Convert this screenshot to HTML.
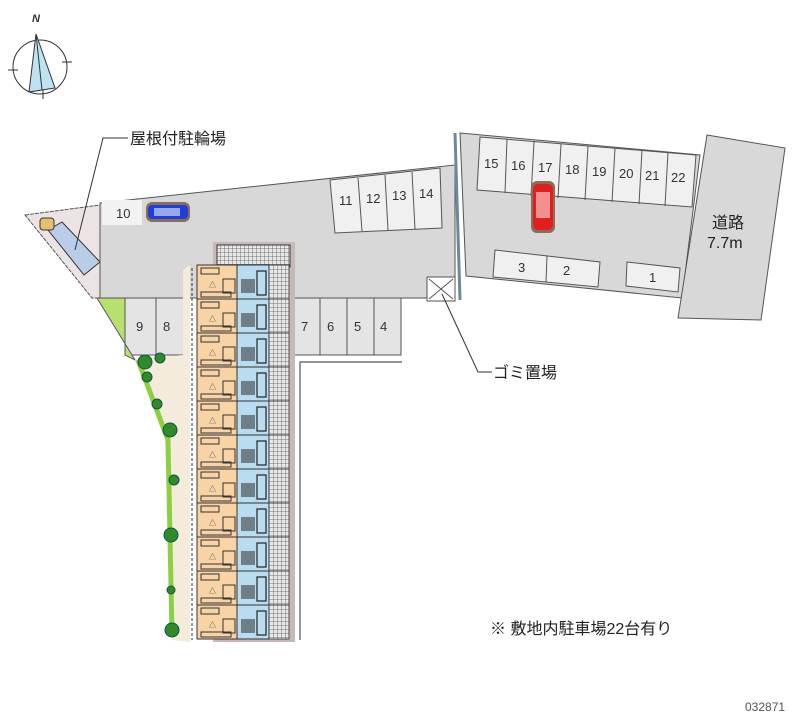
<!DOCTYPE html>
<html><head><meta charset="utf-8"><style>
html,body{margin:0;padding:0;background:#fff;}
svg{display:block;}
text{font-family:"Liberation Sans","Noto Sans CJK JP",sans-serif;}
</style></head><body>
<svg width="800" height="727" viewBox="0 0 800 727" xmlns="http://www.w3.org/2000/svg">
<defs>
<pattern id="hatch" width="4" height="4" patternUnits="userSpaceOnUse">
<rect width="4" height="4" fill="#e8e8e8"/>
<path d="M0 0H4M0 0V4" stroke="#555" stroke-width="0.8"/>
</pattern>
<g id="unit">
<rect x="0" y="0" width="40" height="34" fill="#f7d3a6" stroke="#333" stroke-width="1"/>
<rect x="40" y="0" width="32" height="34" fill="#b9dcf0" stroke="#333" stroke-width="1"/>
<rect x="72" y="0" width="20" height="34" fill="url(#hatch)" stroke="#333" stroke-width="0.8"/>
<rect x="4" y="3" width="18" height="6" fill="none" stroke="#333" stroke-width="1"/>
<rect x="4" y="27" width="30" height="5" fill="none" stroke="#333" stroke-width="1"/>
<rect x="26" y="14" width="12" height="14" fill="none" stroke="#333" stroke-width="1"/>
<rect x="44" y="14" width="14" height="14" fill="#333" opacity="0.55"/>
<rect x="60" y="6" width="9" height="24" fill="none" stroke="#222" stroke-width="1.2"/>
<text x="12" y="22" font-size="7" fill="#333">&#9651;</text>
</g>
</defs>

<!-- compass -->
<circle cx="40" cy="67" r="27" fill="none" stroke="#333" stroke-width="1"/>
<polygon points="36,34 29,92 55,88" fill="#bde3f2" stroke="#333" stroke-width="1"/>
<line x1="36" y1="34" x2="42" y2="90" stroke="#333"/>
<line x1="8" y1="70" x2="18" y2="70" stroke="#333"/><line x1="62" y1="62" x2="72" y2="62" stroke="#333"/>
<line x1="43" y1="90" x2="43" y2="99" stroke="#333"/>
<text x="32" y="22" font-size="11" font-style="italic" font-weight="bold" font-family="Liberation Serif,serif" fill="#333">N</text>

<!-- left triangle bike area -->
<polygon points="25,215 100,205 100,298 92,298" fill="#ece4e4" stroke="#555" stroke-width="1" stroke-dasharray="4,1"/>
<polygon points="48,230 62,222 100,262 84,275" fill="#b9cde8" stroke="#333" stroke-width="1"/>
<rect x="40" y="218" width="14" height="12" rx="3" fill="#e6c070" stroke="#333"/>

<!-- main lot -->
<polygon points="100,203 455,165 455,298 100,298" fill="#d8d8d8" stroke="#555" stroke-width="1"/>
<rect x="102" y="200" width="40" height="25" fill="#f2f2f2"/>
<text x="116" y="218" font-size="13" fill="#333">10</text>
<rect x="146" y="202" width="44" height="20" rx="6" fill="#8a6d5a"/>
<rect x="148" y="205" width="40" height="14" rx="4" fill="#1e3fd8"/>
<rect x="154" y="208" width="26" height="8" fill="#fff" opacity="0.55"/>
<polygon points="330,180 440,168 442,228 335,233" fill="#f0f0f0" stroke="#555"/>
<line x1="358" y1="178" x2="362" y2="231" stroke="#555"/><line x1="385" y1="175" x2="388" y2="230" stroke="#555"/><line x1="412" y1="172" x2="415" y2="229" stroke="#555"/>
<text x="339" y="205" font-size="13" fill="#333">11</text><text x="366" y="203" font-size="13" fill="#333">12</text><text x="392" y="200" font-size="13" fill="#333">13</text><text x="419" y="198" font-size="13" fill="#333">14</text>
<rect x="427" y="277" width="28" height="24" fill="#fff" stroke="#555"/>
<path d="M429 279L453 299M453 279L429 299" stroke="#555"/>
<line x1="455" y1="133" x2="460" y2="300" stroke="#6a8a9a" stroke-width="3"/>

<!-- lower parking row -->
<rect x="125" y="298" width="62" height="57" fill="#e4e4e4" stroke="#555"/>
<line x1="156" y1="298" x2="156" y2="355" stroke="#555"/>
<text x="136" y="331" font-size="13" fill="#333">9</text><text x="163" y="331" font-size="13" fill="#333">8</text>
<rect x="293" y="298" width="108" height="57" fill="#e4e4e4" stroke="#555"/>
<line x1="320" y1="298" x2="320" y2="355" stroke="#555"/><line x1="347" y1="298" x2="347" y2="355" stroke="#555"/><line x1="374" y1="298" x2="374" y2="355" stroke="#555"/>
<text x="301" y="331" font-size="13" fill="#333">7</text><text x="327" y="331" font-size="13" fill="#333">6</text><text x="354" y="331" font-size="13" fill="#333">5</text><text x="380" y="331" font-size="13" fill="#333">4</text>
<path d="M300 640V362H402" fill="none" stroke="#555" stroke-width="1.2"/>

<!-- green / beige -->
<polygon points="97,298 125,298 125,355 135,360" fill="#b8e070" stroke="#555"/>
<path d="M135,360 L165,440 L172,640 L190,642 L190,265 L183,270 L183,355 L140,358 Z" fill="#f5ebdc"/>
<path d="M138,360 L168,440 L172,635" fill="none" stroke="#8cd040" stroke-width="5"/>
<g fill="#2f8a2a" stroke="#154" stroke-width="1">
<circle cx="145" cy="362" r="7"/><circle cx="160" cy="358" r="5"/><circle cx="147" cy="377" r="5"/><circle cx="157" cy="404" r="5"/><circle cx="170" cy="430" r="7"/><circle cx="174" cy="480" r="5"/><circle cx="171" cy="535" r="7"/><circle cx="171" cy="590" r="4"/><circle cx="172" cy="630" r="7"/>
</g>

<!-- building -->
<rect x="213" y="242" width="82" height="400" fill="#c8b8b8"/>
<rect x="217" y="245" width="73" height="22" fill="url(#hatch)" stroke="#333"/>
<use href="#unit" x="197" y="265"/><use href="#unit" x="197" y="299"/><use href="#unit" x="197" y="333"/><use href="#unit" x="197" y="367"/><use href="#unit" x="197" y="401"/><use href="#unit" x="197" y="435"/><use href="#unit" x="197" y="469"/><use href="#unit" x="197" y="503"/><use href="#unit" x="197" y="537"/><use href="#unit" x="197" y="571"/><use href="#unit" x="197" y="605"/>
<line x1="192" y1="268" x2="192" y2="640" stroke="#333" stroke-dasharray="3,2"/>

<!-- right lot -->
<polygon points="460,133 700,155 682,298 466,276" fill="#d8d8d8" stroke="#555"/>
<polygon points="480,137 696,155 692,207 477,190" fill="#f0f0f0" stroke="#555"/>
<g stroke="#555"><line x1="507" y1="139" x2="505" y2="193"/><line x1="534" y1="142" x2="531" y2="196"/><line x1="561" y1="144" x2="558" y2="198"/><line x1="588" y1="146" x2="585" y2="200"/><line x1="615" y1="148" x2="612" y2="202"/><line x1="642" y1="150" x2="639" y2="204"/><line x1="668" y1="152" x2="665" y2="206"/></g>
<g font-size="13" fill="#333"><text x="484" y="168">15</text><text x="511" y="170">16</text><text x="538" y="172">17</text><text x="565" y="174">18</text><text x="592" y="176">19</text><text x="619" y="178">20</text><text x="645" y="180">21</text><text x="671" y="182">22</text></g>
<rect x="531" y="181" width="24" height="52" rx="6" fill="#8a6d5a"/>
<rect x="533" y="184" width="20" height="46" rx="5" fill="#e02020"/>
<rect x="536" y="192" width="14" height="26" fill="#fff" opacity="0.5"/>
<polygon points="495,250 600,262 598,287 493,277" fill="#f0f0f0" stroke="#555"/>
<line x1="547" y1="256" x2="546" y2="282" stroke="#555"/>
<text x="518" y="272" font-size="13" fill="#333">3</text><text x="563" y="275" font-size="13" fill="#333">2</text>
<polygon points="627,262 680,268 678,292 626,286" fill="#f0f0f0" stroke="#555"/>
<text x="649" y="282" font-size="13" fill="#333">1</text>

<!-- road -->
<polygon points="707,135 785,148 761,320 678,318" fill="#d8d8d8" stroke="#555"/>
<text x="712" y="228" font-size="16" fill="#222">道路</text>
<text x="707" y="248" font-size="16" fill="#222">7.7m</text>

<!-- labels -->
<path d="M128 138H103L75 250" fill="none" stroke="#333"/>
<text x="130" y="144" font-size="16" fill="#222">屋根付駐輪場</text>
<path d="M442 294L478 372H492" fill="none" stroke="#333"/>
<text x="493" y="378" font-size="16" fill="#222">ゴミ置場</text>
<text x="490" y="634" font-size="16" fill="#222">※ 敷地内駐車場22台有り</text>
<text x="745" y="711" font-size="12" fill="#555">032871</text>
</svg>
</body></html>
